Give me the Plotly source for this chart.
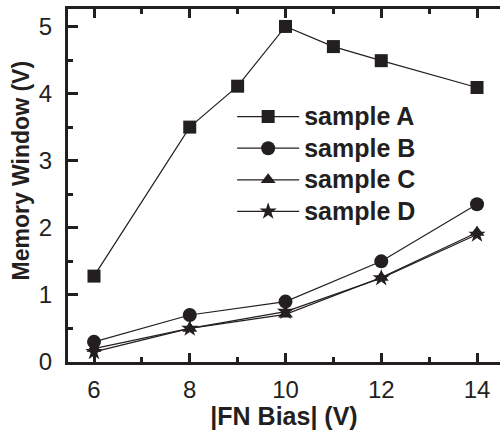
import plotly.graph_objects as go

bias = [6, 8, 9, 10, 11, 12, 14]
sample_a = [1.28, 3.50, 4.11, 5.00, 4.70, 4.49, 4.09]
bias_bcd = [6, 8, 10, 12, 14]
sample_b = [0.30, 0.70, 0.90, 1.50, 2.35]
sample_c = [0.20, 0.50, 0.71, 1.26, 1.93]
sample_d = [0.15, 0.50, 0.75, 1.25, 1.90]
names = ["sample A", "sample B", "sample C", "sample D"]

x_ticks = [6, 8, 10, 12, 14]
y_ticks = [0, 1, 2, 3, 4, 5]

font_family = "Liberation Sans, Arial, sans-serif"
black = "#231f20"

fig = go.Figure()
series = [
    (names[0], bias, sample_a, "square", 13),
    (names[1], bias_bcd, sample_b, "circle", 14),
    (names[2], bias_bcd, sample_c, "triangle-up", 13),
    (names[3], bias_bcd, sample_d, "star", 13),
]
for name, xs, ys, sym, sz in series:
    fig.add_trace(go.Scatter(
        x=xs, y=ys, name='<span style="font-size:25px">' + name + '</span>',
        mode="lines+markers",
        line=dict(color=black, width=1.2),
        marker=dict(symbol=sym, size=sz, color=black, line=dict(width=0)),
    ))

fig.update_layout(
    width=500, height=430,
    margin=dict(l=68, r=0, t=9, b=68),
    paper_bgcolor="white", plot_bgcolor="white",
    font=dict(family=font_family, color=black),
    showlegend=True,
    legend=dict(
        x=0.38, y=0.56, xanchor="left", yanchor="middle",
        bgcolor="rgba(0,0,0,0)",
        font=dict(size=22, family=font_family, weight="bold", color=black),
        itemwidth=62, tracegroupgap=0,
    ),
    annotations=[dict(
        text="Memory Window (V)", textangle=-90,
        xref="paper", yref="paper", x=-0.1065, y=0.5425,
        xanchor="center", yanchor="middle", showarrow=False,
        font=dict(size=23, family=font_family, weight="bold", color=black),
    )],
)
fig.update_xaxes(
    range=[5.457, 14.48], tickvals=x_ticks,
    ticks="inside", ticklen=9, tickwidth=2.5, tickcolor=black,
    minor=dict(dtick=1, ticks="inside", ticklen=5, tickwidth=2.5, tickcolor=black),
    showline=True, linewidth=3, linecolor=black, mirror="allticks",
    showgrid=False, zeroline=False,
    tickfont=dict(size=24, color=black), ticklabelstandoff=4,
    title=dict(text="|FN Bias| (V)", font=dict(size=25, weight="bold", color=black), standoff=6),
)
fig.update_yaxes(
    range=[0, 5.26], tickvals=y_ticks,
    ticks="inside", ticklen=10, tickwidth=2.5, tickcolor=black,
    minor=dict(dtick=0.5, ticks="inside", ticklen=5, tickwidth=2.5, tickcolor=black),
    showline=True, linewidth=3, linecolor=black, mirror=False,
    showgrid=False, zeroline=False,
    tickfont=dict(size=24, color=black), ticklabelstandoff=8,
)

fig.write_html("out.html")
